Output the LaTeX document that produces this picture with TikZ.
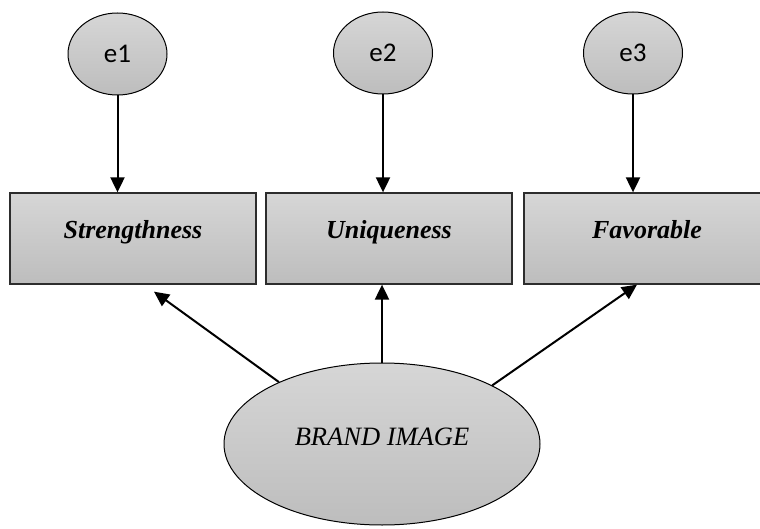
\documentclass[tikz,border=0pt]{standalone}
\usepackage{fontspec}
\setmainfont{Liberation Serif}
\newfontfamily\errfont{Carlito}
\usetikzlibrary{shapes.geometric,arrows.meta}
\definecolor{shadetop}{RGB}{214,214,214}
\definecolor{shadebot}{RGB}{189,189,189}
\definecolor{boxline}{RGB}{45,45,45}

\begin{document}
\begin{tikzpicture}[x=1pt,y=-1pt,
    errnode/.style={ellipse,draw=black,line width=1pt,top color=shadetop,bottom color=shadebot,
        minimum width=99pt,minimum height=82pt,inner sep=0pt,font=\errfont\fontsize{27}{30}\selectfont},
    itembox/.style={rectangle,draw=boxline,line width=1.3pt,top color=shadetop,bottom color=shadebot,
        minimum width=246pt,minimum height=91pt,inner sep=0pt,text height=18pt,text depth=18pt,
        font=\bfseries\itshape\fontsize{26}{30}\selectfont},
    latent/.style={ellipse,draw=black,line width=1pt,top color=shadetop,bottom color=shadebot,
        minimum width=316pt,minimum height=162pt,inner sep=0pt,text height=17pt,text depth=15pt,
        font=\itshape\fontsize{26.5}{30}\selectfont},
    link/.style={-{Triangle[length=15pt,width=14pt]},line width=2pt}]
    \useasboundingbox (0,0) rectangle (760,529);
    \clip (0,0) rectangle (760,529);

    % Error terms
    \node[errnode] (e1) at (117.5,54) {e1};
    \node[errnode] (e2) at (383,53) {e2};
    \node[errnode] (e3) at (633,53) {e3};

    % Indicators
    \node[itembox] (s1) at (133,238.5) {Strengthness};
    \node[itembox] (s2) at (389,238.5) {Uniqueness};
    \node[itembox] (s3) at (647,238.5) {Favorable};

    % Latent construct
    \node[latent] (brand) at (382,444) {BRAND IMAGE};

    % Paths
    \draw[link] (e1) -- (e1 |- s1.north);
    \draw[link] (e2) -- (e2 |- s2.north);
    \draw[link] (e3) -- (e3 |- s3.north);
    \draw[link] (brand.149) -- ([xshift=21pt,yshift=-7pt]s1.south);
    \draw[link] (brand.north) -- (brand.north |- s2.south);
    \draw[link] (brand.28) -- ([xshift=-10pt]s3.south);
\end{tikzpicture}
\end{document}
